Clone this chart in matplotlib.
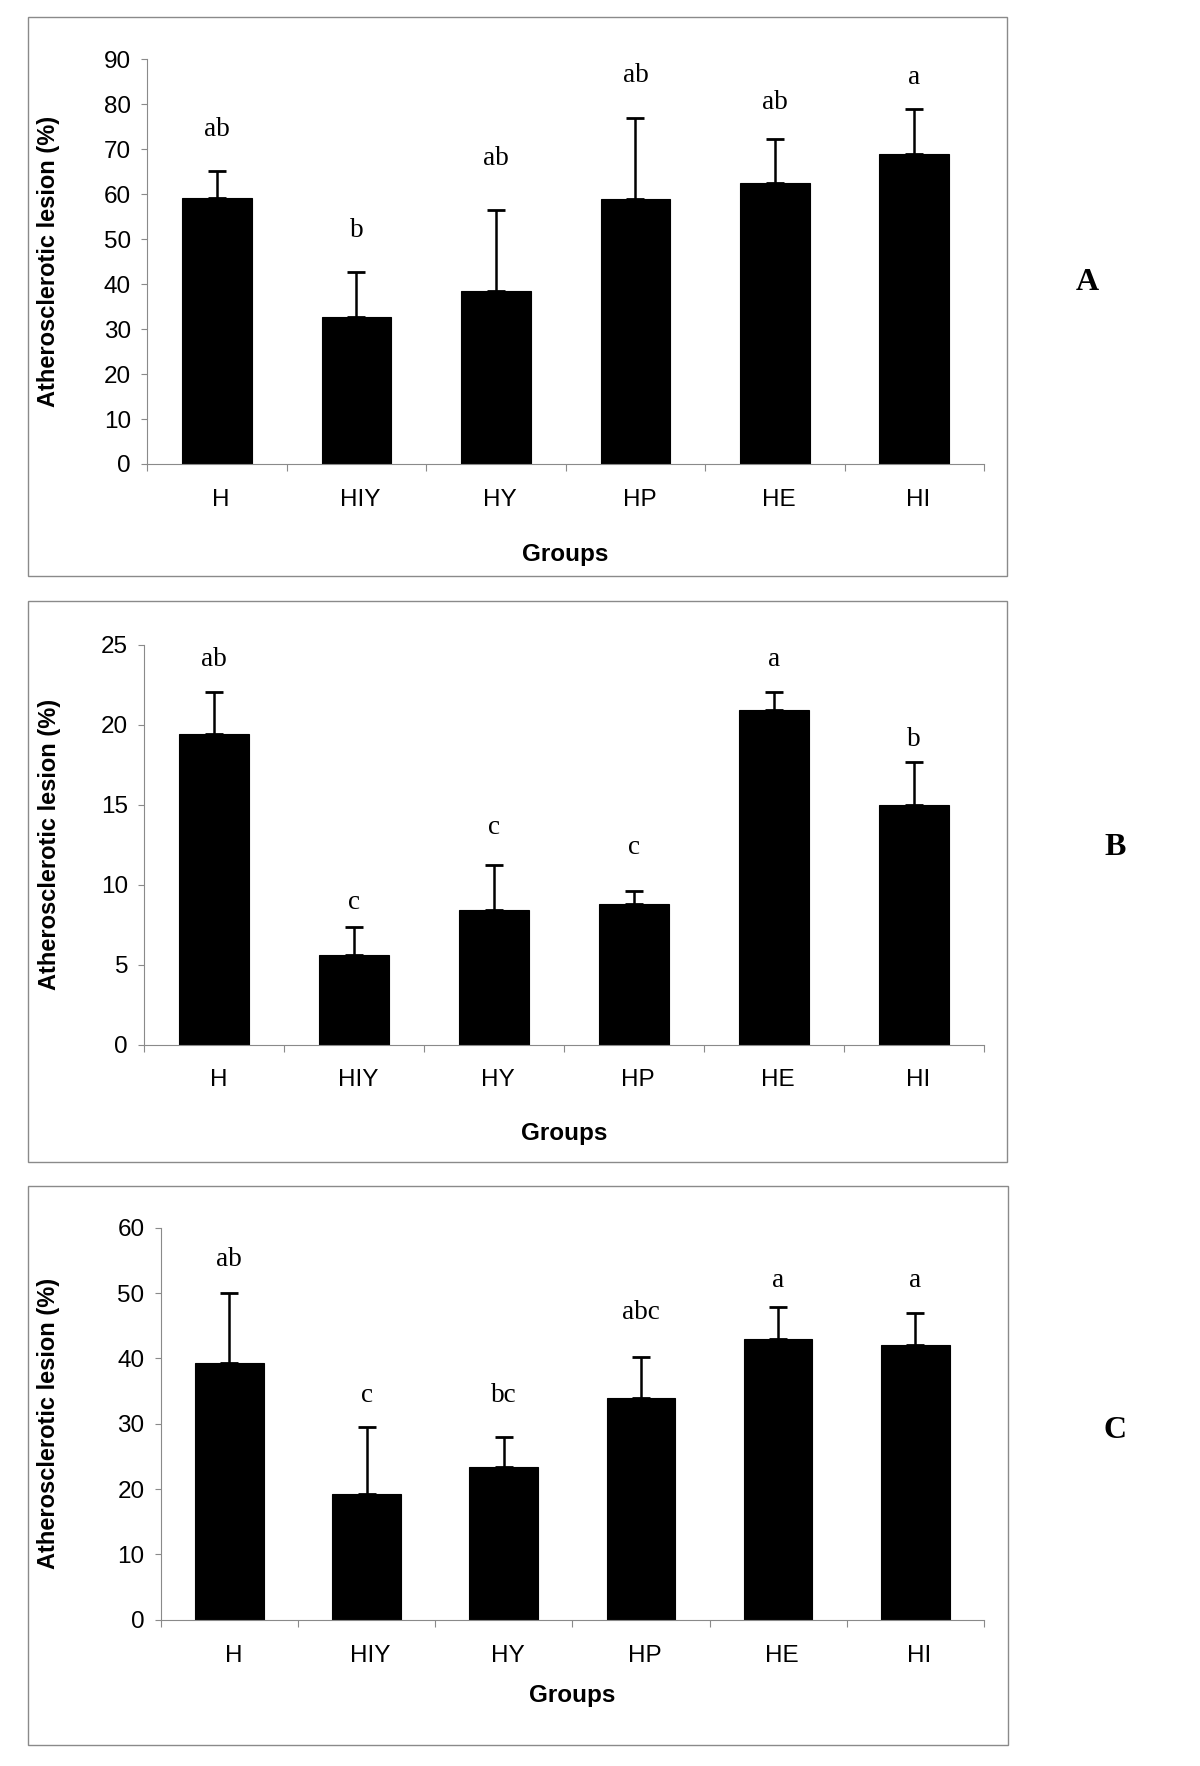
import matplotlib
matplotlib.use("Agg")
import matplotlib.pyplot as plt
from matplotlib.patches import Rectangle

# ── Data ───────────────────────────────────────────────────────────────────
groups = ["H", "HIY", "HY", "HP", "HE", "HI"]

lesion_a = [59.2, 32.7, 38.4, 58.9, 62.4, 69.0]
sd_a = [5.9, 10.1, 18.2, 18.1, 9.9, 9.9]
letters_a = ["ab", "b", "ab", "ab", "ab", "a"]
letter_y_a = [74.4, 52.0, 68.0, 86.5, 80.4, 86.0]

lesion_b = [19.4, 5.6, 8.4, 8.8, 20.9, 15.0]
sd_b = [2.65, 1.75, 2.8, 0.8, 1.15, 2.65]
letters_b = ["ab", "c", "c", "c", "a", "b"]
letter_y_b = [24.1, 8.9, 13.6, 12.3, 24.1, 19.1]

lesion_c = [39.3, 19.2, 23.45, 33.9, 43.0, 42.05]
sd_c = [10.7, 10.3, 4.55, 6.4, 4.9, 4.95]
letters_c = ["ab", "c", "bc", "abc", "a", "a"]
letter_y_c = [55.2, 34.3, 34.4, 47.0, 51.9, 51.9]

W, H = 1200, 1766
DPI = 100
GRAY = "#8a8a8a"
SANS = "Liberation Sans"
SERIF = "Liberation Serif"


def px_x(x):
    return x / W


def px_y(y):
    return 1 - y / H


def draw_panel(fig, rect_px, box_px, letter_px, values, sd, letters, letter_y,
               ymax, ystep, ylabel_x, groups_y):
    left, top, right, bottom = rect_px
    ax = fig.add_axes([px_x(left), px_y(bottom), (right - left) / W, (bottom - top) / H])

    x = list(range(len(groups)))
    ax.bar(x, values, width=0.5, color="black", edgecolor="black", linewidth=0.8, zorder=2)
    ax.errorbar(x, values, yerr=[[0] * len(sd), sd], fmt="none", ecolor="black",
                elinewidth=1.8, capsize=6.2, capthick=2.0, zorder=3)
    for xi, lab, ly in zip(x, letters, letter_y):
        ax.text(xi, ly, lab, ha="center", va="center", fontsize=19.5, family=SERIF)

    ax.set_xlim(-0.5, len(groups) - 0.5)
    ax.set_ylim(0, ymax)
    ax.set_yticks(range(0, ymax + 1, ystep))

    # boundaries carry the tick marks, centres carry the labels (Excel style)
    ax.set_xticks([i - 0.5 for i in range(len(groups) + 1)])
    ax.set_xticklabels([])
    ax.set_xticks([i + 0.03 for i in x], minor=True)
    ax.set_xticklabels(groups, minor=True, fontsize=17.5, family=SANS)
    ax.tick_params(axis="x", which="major", length=6.5 * 0.72, width=0.8, color=GRAY, direction="out")
    ax.tick_params(axis="x", which="minor", length=0, pad=18)
    ax.tick_params(axis="y", length=6.5 * 0.72, width=0.8, color=GRAY, direction="out", pad=7,
                   labelsize=17.5)
    for t in ax.get_yticklabels():
        t.set_family(SANS)

    for s in ["top", "right"]:
        ax.spines[s].set_visible(False)
    for s in ["left", "bottom"]:
        ax.spines[s].set_color(GRAY)
        ax.spines[s].set_linewidth(0.8)

    ax.set_ylabel("Atherosclerotic lesion (%)", fontsize=17, fontweight="bold", family=SANS)
    ax.yaxis.set_label_coords((ylabel_x - left) / (right - left), 0.5)
    ax.set_xlabel("Groups", fontsize=17.5, fontweight="bold", family=SANS)
    ax.xaxis.set_label_coords(0.5, 1 - (groups_y - top) / (bottom - top))
    ax.xaxis.label.set_va("center")
    ax.yaxis.label.set_va("center")

    bx0, by0, bx1, by1 = box_px
    fig.patches.append(Rectangle((px_x(bx0), px_y(by1)), (bx1 - bx0) / W, (by1 - by0) / H,
                                 transform=fig.transFigure, fill=False, edgecolor=GRAY,
                                 linewidth=1.0))
    lx, ly, ltxt = letter_px
    fig.text(px_x(lx), px_y(ly), ltxt, ha="center", va="center", fontsize=23,
             fontweight="bold", family=SERIF)
    return ax


fig = plt.figure(figsize=(W / DPI, H / DPI), dpi=DPI)
fig.patch.set_facecolor("white")

draw_panel(fig, (147.3, 59.4, 984, 464), (28, 17.3, 1007, 575.6), (1087, 282, "A"),
           lesion_a, sd_a, letters_a, letter_y_a, 90, 10, 49, 555)
draw_panel(fig, (144.3, 644.9, 983.5, 1044.5), (28, 600.5, 1007, 1162), (1115, 848, "B"),
           lesion_b, sd_b, letters_b, letter_y_b, 25, 5, 50, 1133.6)
draw_panel(fig, (160.7, 1227.8, 984, 1619.8), (28, 1185.6, 1007.6, 1745), (1115, 1431, "C"),
           lesion_c, sd_c, letters_c, letter_y_c, 60, 10, 49, 1695.7)

fig.savefig("out.png", dpi=DPI)
